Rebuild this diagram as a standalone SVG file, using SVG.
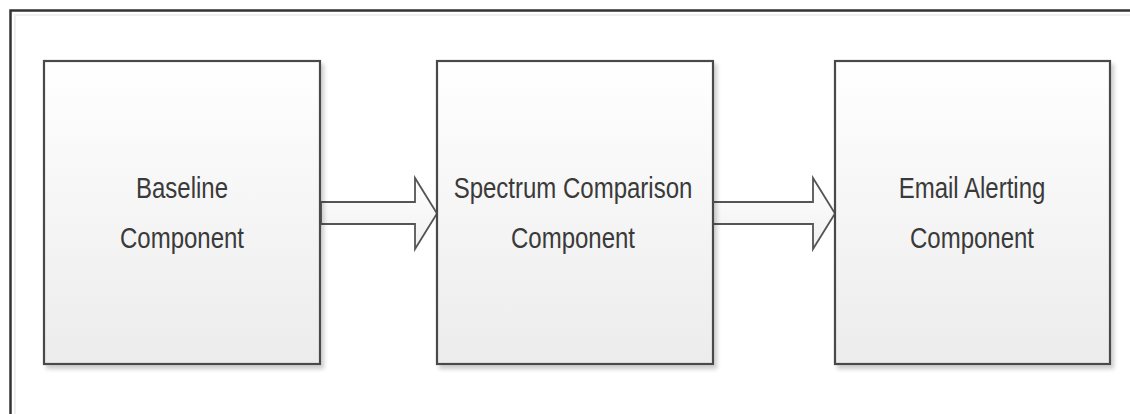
<svg xmlns="http://www.w3.org/2000/svg" width="1130" height="414" viewBox="0 0 1130 414">
<defs>
<linearGradient id="boxfill" x1="0" y1="0" x2="0" y2="1">
<stop offset="0" stop-color="#ffffff"/>
<stop offset="1" stop-color="#ececec"/>
</linearGradient>
<linearGradient id="arrfill" x1="0" y1="0" x2="0" y2="1">
<stop offset="0" stop-color="#ffffff"/>
<stop offset="1" stop-color="#f0f0f0"/>
</linearGradient>
<filter id="sh" x="-5%" y="-5%" width="115%" height="115%">
<feGaussianBlur in="SourceAlpha" stdDeviation="2"/>
<feOffset dx="3" dy="4" result="b"/>
<feComponentTransfer><feFuncA type="linear" slope="0.2"/></feComponentTransfer>
<feMerge><feMergeNode/><feMergeNode in="SourceGraphic"/></feMerge>
</filter>
</defs>
<style>
.box{fill:url(#boxfill);stroke:#4a4a4a;stroke-width:2.2;filter:url(#sh)}
.arr{fill:url(#arrfill);stroke:#555;stroke-width:1.8;stroke-linejoin:miter}
.lbl{font-family:"Liberation Sans",Arial,sans-serif;font-size:24px;fill:#3a3a3a;text-anchor:middle}
</style>
<rect width="1130" height="414" fill="#ffffff"/>
<path d="M1130,10.5 H10.5 V414" fill="none" stroke="#333" stroke-width="2.5"/>
<path d="M1130,15 H15 V414" fill="none" stroke="#ececec" stroke-width="1.5"/>
<g id="connectors">
<path class="arr" d="M321,202 H415 V178 L437,213.5 L415,249 V224 H321 Z"/>
<path class="arr" d="M713,202 H813 V178 L835,213.5 L813,249 V224 H713 Z"/>
</g>
<g id="baseline">
<rect class="box" x="44" y="61" width="276" height="303"/>
<text class="lbl" transform="translate(182,198) scale(1,1.25)">Baseline</text>
<text class="lbl" transform="translate(182,248) scale(1,1.25)">Component</text>
</g>
<g id="spectrum">
<rect class="box" x="437" y="61" width="276" height="303"/>
<text class="lbl" transform="translate(573,198) scale(1,1.25)">Spectrum Comparison</text>
<text class="lbl" transform="translate(573,248) scale(1,1.25)">Component</text>
</g>
<g id="email">
<rect class="box" x="835" y="61" width="275" height="303"/>
<text class="lbl" transform="translate(972,198) scale(1,1.25)">Email Alerting</text>
<text class="lbl" transform="translate(972,248) scale(1,1.25)">Component</text>
</g>
</svg>
